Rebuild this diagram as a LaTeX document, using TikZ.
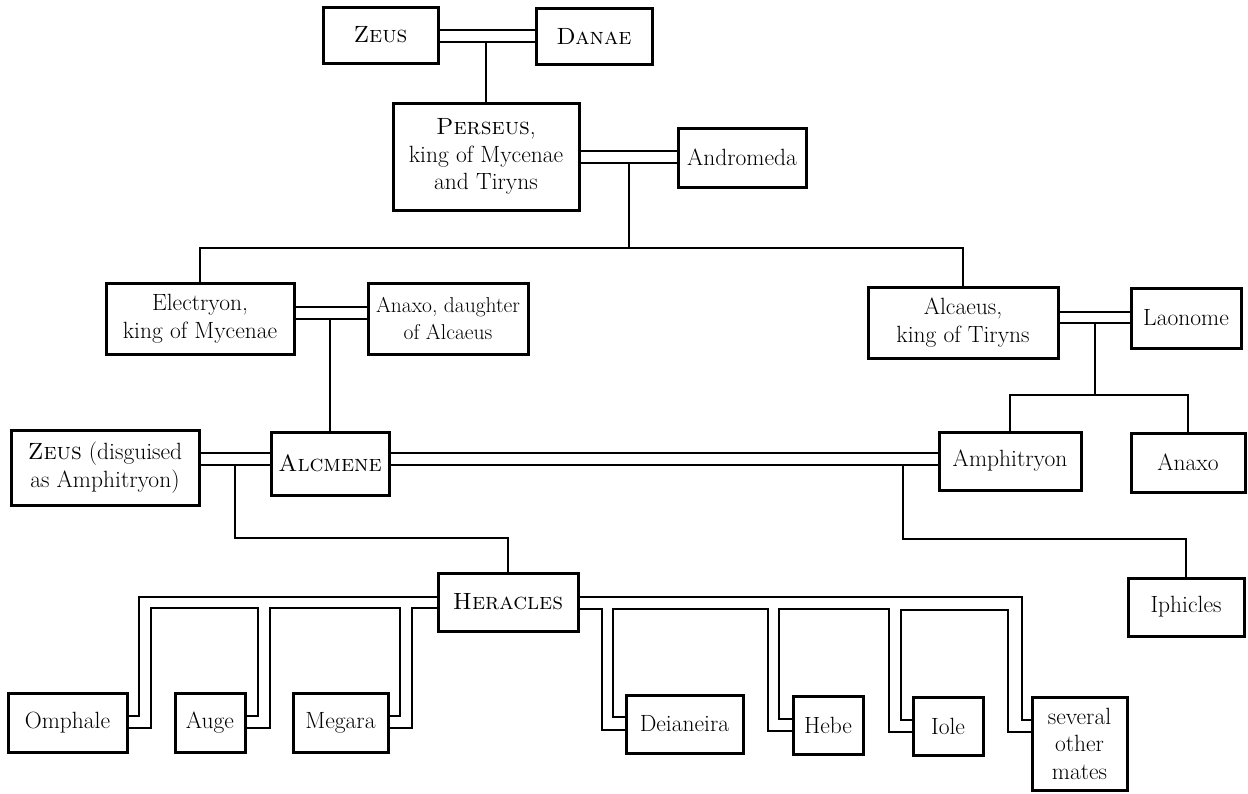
\documentclass[tikz,border=0pt]{standalone}
\usepackage{fontspec}
\begin{document}
\begin{tikzpicture}[x=1pt,y=-1pt,
  person/.style={draw, line width=3pt, align=center, inner sep=0pt,
    font=\fontsize{23.5}{27.5}\selectfont},
  link/.style={line width=2.8pt, line join=miter}]
\useasboundingbox (0,0) rectangle (1248,793);

% generation of Perseus
\node[person, minimum width=115, minimum height=56] (zeus) at (380.5,35) {\textsc{Zeus}};
\node[person, minimum width=116, minimum height=56] (danae) at (594,36) {\textsc{Danae}};
\node[person, minimum width=186, minimum height=107] (perseus) at (486,156.5)
  {\textsc{Perseus},\\king of Mycenae\\and Tiryns};
\node[person, minimum width=128, minimum height=59] (andromeda) at (742,157.5) {Andromeda};

% sons of Perseus and their wives
\node[person, minimum width=188, minimum height=71] (electryon) at (200,318.5)
  {Electryon,\\king of Mycenae};
\node[person, minimum width=160, minimum height=71, font=\fontsize{21.5}{27.5}\selectfont]
  (anaxod) at (448,318.5) {Anaxo, daughter\\of Alcaeus};
\node[person, minimum width=190, minimum height=71] (alcaeus) at (963,322.5)
  {Alcaeus,\\king of Tiryns};
\node[person, minimum width=110, minimum height=60] (laonome) at (1186,318) {Laonome};

% Alcmene and her two husbands
\node[person, minimum width=188, minimum height=75] (zeusd) at (105,467.5)
  {\textsc{Zeus} (disguised\\as Amphitryon)};
\node[person, minimum width=118, minimum height=63] (alcmene) at (330,463.5) {\textsc{Alcmene}};
\node[person, minimum width=142, minimum height=58] (amphitryon) at (1010,461) {Amphitryon};
\node[person, minimum width=114, minimum height=59] (anaxo) at (1188,462.5) {Anaxo};
\node[person, minimum width=116, minimum height=58] (iphicles) at (1186,607) {Iphicles};

% Heracles and his mates
\node[person, minimum width=140, minimum height=58] (heracles) at (508,602) {\textsc{Heracles}};
\node[person, minimum width=119, minimum height=59] (omphale) at (67.5,722.5) {Omphale};
\node[person, minimum width=70, minimum height=59] (auge) at (210,722.5) {Auge};
\node[person, minimum width=95, minimum height=59] (megara) at (340.5,722.5) {Megara};
\node[person, minimum width=117, minimum height=58] (deianeira) at (684.5,724) {Deianeira};
\node[person, minimum width=70, minimum height=58] (hebe) at (828,725) {Hebe};
\node[person, minimum width=70, minimum height=58] (iole) at (948,726) {Iole};
\node[person, minimum width=95, minimum height=93] (several) at (1079.5,743.5)
  {several\\other\\mates};

% marriages (double lines) and descent (single lines)
\draw[link] (zeus.east |- 0,30) -- (danae.west |- 0,30);
\draw[link] (zeus.east |- 0,42) -- (danae.west |- 0,42);
\draw[link] (perseus.north |- 0,42) -- (perseus.north);

\draw[link] (perseus.east |- 0,151) -- (andromeda.west |- 0,151);
\draw[link] (perseus.east |- 0,163) -- (andromeda.west |- 0,163);
\coordinate (pa) at (629,163);
\draw[link] (pa) -- (pa |- 0,248);
\draw[link] (electryon.north) -- (electryon.north |- 0,248)
  -- (alcaeus.north |- 0,248) -- (alcaeus.north);

\draw[link] (electryon.east |- 0,307) -- (anaxod.west |- 0,307);
\draw[link] (electryon.east |- 0,319) -- (anaxod.west |- 0,319);
\draw[link] (alcmene.north |- 0,319) -- (alcmene.north);

\draw[link] (alcaeus.east |- 0,312) -- (laonome.west |- 0,312);
\draw[link] (alcaeus.east |- 0,323) -- (laonome.west |- 0,323);
\coordinate (al) at (1095,323);
\draw[link] (al) -- (al |- 0,395);
\draw[link] (amphitryon.north) -- (amphitryon.north |- 0,395)
  -- (anaxo.north |- 0,395) -- (anaxo.north);

\draw[link] (zeusd.east |- 0,453) -- (alcmene.west |- 0,453);
\draw[link] (zeusd.east |- 0,465) -- (alcmene.west |- 0,465);
\coordinate (za) at (235,465);
\draw[link] (za) -- (za |- 0,538) -- (heracles.north |- 0,538) -- (heracles.north);

\draw[link] (alcmene.east |- 0,453) -- (amphitryon.west |- 0,453);
\draw[link] (alcmene.east |- 0,465) -- (amphitryon.west |- 0,465);
\coordinate (aa) at (903,465);
\draw[link] (aa) -- (aa |- 0,539) -- (iphicles.north |- 0,539) -- (iphicles.north);

% Heracles' marriages, left side
\draw[link] (heracles.west |- 0,597) -- (139,597) -- (139,716) -- (omphale.east |- 0,716);
\draw[link] (omphale.east |- 0,728) -- (151,728) -- (151,608) -- (258,608)
  -- (258,716) -- (auge.east |- 0,716);
\draw[link] (auge.east |- 0,728) -- (270,728) -- (270,608) -- (400,608)
  -- (400,716) -- (megara.east |- 0,716);
\draw[link] (megara.east |- 0,728) -- (412,728) -- (412,608) -- (heracles.west |- 0,608);

% Heracles' marriages, right side
\draw[link] (heracles.east |- 0,597) -- (1022,597) -- (1022,720) -- (several.west |- 0,720);
\draw[link] (heracles.east |- 0,609) -- (602,609) -- (602,730) -- (deianeira.west |- 0,730);
\draw[link] (deianeira.west |- 0,717) -- (613,717) -- (613,609) -- (768,609)
  -- (768,731) -- (hebe.west |- 0,731);
\draw[link] (hebe.west |- 0,719) -- (779,719) -- (779,609) -- (889,609)
  -- (889,732) -- (iole.west |- 0,732);
\draw[link] (iole.west |- 0,720) -- (901,720) -- (901,610) -- (1008,610)
  -- (1008,732) -- (several.west |- 0,732);
\end{tikzpicture}
\end{document}
